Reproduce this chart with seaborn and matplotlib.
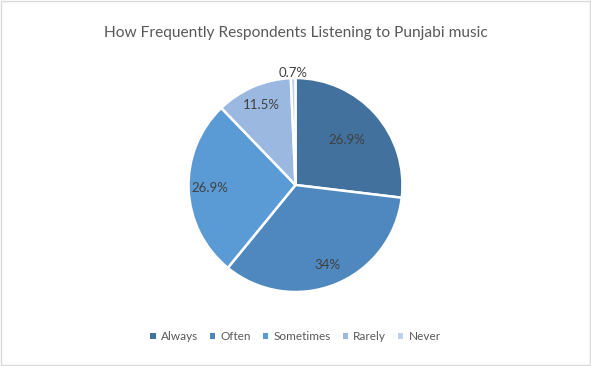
import matplotlib
matplotlib.use("Agg")
import matplotlib.pyplot as plt
import seaborn as sns
import numpy as np
from matplotlib.patches import Rectangle

sns.set_theme(style="white")
plt.rcParams['font.family'] = ['Lato', 'DejaVu Sans']

categories = ["Always", "Often", "Sometimes", "Rarely", "Never"]
values = [26.9, 34, 26.9, 11.5, 0.7]
value_labels = ["26.9%", "34%", "26.9%", "11.5%", "0.7%"]
colors = ["#41719C", "#4E88BE", "#5B9BD5", "#9BB8E0", "#BDD0EC"]
label_radius = [0.64, 0.81, 0.80, 0.81, 1.05]

fig = plt.figure(figsize=(5.91, 3.66), dpi=100)
fig.patch.set_facecolor("white")
fig.add_artist(Rectangle((0.001, 0.002), 0.997, 0.995, transform=fig.transFigure,
                         fill=False, edgecolor="#D9D9D9", linewidth=1))

ax = fig.add_axes([0.5 - 0.5 * 214 / 591, 1 - 292 / 366, 214 / 591, 214 / 366])
wedges, _ = ax.pie(values, colors=colors, startangle=90, counterclock=False,
                   wedgeprops=dict(edgecolor="white", linewidth=1.8))
ax.set_xlim(-1, 1)
ax.set_ylim(-1, 1)
ax.set_aspect("equal")

for w, lab, r in zip(wedges, value_labels, label_radius):
    ang = np.deg2rad((w.theta1 + w.theta2) / 2)
    ax.text(r * np.cos(ang), r * np.sin(ang), lab, ha="center", va="center",
            fontsize=9.5, color="#404040", clip_on=False)

fig.text(0.5, 1 - 33 / 366, "How Frequently Respondents Listening to Punjabi music",
         ha="center", va="center", fontsize=11.2, color="#595959")

leg = fig.legend(wedges, categories, loc="center", bbox_to_anchor=(0.5, 1 - 337 / 366),
                 ncol=5, frameon=False, fontsize=8.5, handlelength=0.45, handleheight=0.45,
                 handletextpad=0.45, columnspacing=1.0, labelcolor="#595959")
for h in leg.legend_handles:
    h.set_linewidth(0)

fig.savefig("out.png", dpi=100)
